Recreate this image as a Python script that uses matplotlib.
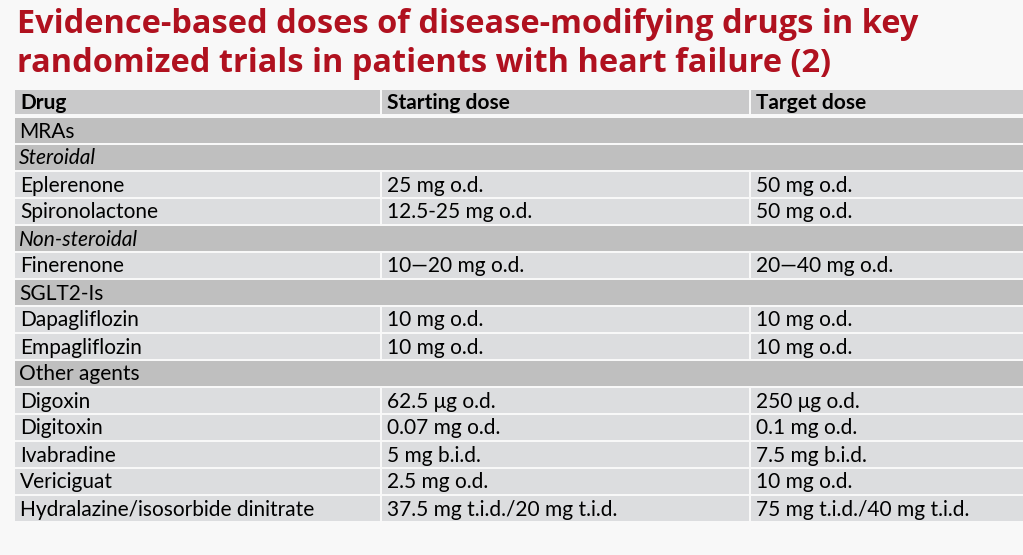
import matplotlib.pyplot as plt
from matplotlib.patches import Rectangle

# dados da tabela
cabecalho = ['Drug', 'Starting dose', 'Target dose']
tipo_linha = ['sec', 'sub', 'dado', 'dado', 'sub', 'dado', 'sec', 'dado', 'dado',
              'sec', 'dado', 'dado', 'dado', 'dado', 'dado']
farmacos = ['MRAs', 'Steroidal', 'Eplerenone', 'Spironolactone', 'Non-steroidal',
            'Finerenone', 'SGLT2-Is', 'Dapagliflozin', 'Empagliflozin', 'Other agents',
            'Digoxin', 'Digitoxin', 'Ivabradine', 'Vericiguat',
            'Hydralazine/isosorbide dinitrate']
dose_inicial = ['', '', '25 mg o.d.', '12.5-25 mg o.d.', '', '10\u201420 mg o.d.', '',
                '10 mg o.d.', '10 mg o.d.', '', '62.5 \u03bcg o.d.', '0.07 mg o.d.',
                '5 mg b.i.d.', '2.5 mg o.d.', '37.5 mg t.i.d./20 mg t.i.d.']
dose_alvo = ['', '', '50 mg o.d.', '50 mg o.d.', '', '20\u201440 mg o.d.', '',
             '10 mg o.d.', '10 mg o.d.', '', '250 \u03bcg o.d.', '0.1 mg o.d.',
             '7.5 mg b.i.d.', '10 mg o.d.', '75 mg t.i.d./40 mg t.i.d.']

titulo = ['Evidence-based doses of disease-modifying drugs in key',
          'randomized trials in patients with heart failure (2)']

fig = plt.figure(figsize=(10.23, 5.55), dpi=100)
fig.patch.set_facecolor('#f8f8f8')
ax = fig.add_axes([0, 0, 1, 1])
ax.set_xlim(0, 1023)
ax.set_ylim(555, 0)
ax.axis('off')

fonte = 'Lato'
tam = 15

# título
for i, linha in enumerate(titulo):
    ax.text(17, 33 + 39 * i, linha, fontsize=23.4, fontweight='bold', family='Open Sans',
            color='#b0111f', va='baseline', ha='left')

# colunas: limites em pixels
col_x = [15, 382, 751, 1030]
gap = 2

# cabeçalho
topo_cab, alt_cab = 90, 24
for c in range(3):
    ax.add_patch(Rectangle((col_x[c], topo_cab), col_x[c + 1] - col_x[c] - gap, alt_cab,
                           facecolor='#c9c9ca', edgecolor='none'))
    ax.text(col_x[c] + 5, topo_cab + 19, cabecalho[c], fontsize=tam, fontweight='bold',
            family=fonte, va='baseline', color='black')

# linhas
topo, alt = 117.5, 27
for i, kind in enumerate(tipo_linha):
    y = topo + i * alt
    if kind in ('sec', 'sub'):
        ax.add_patch(Rectangle((col_x[0], y), col_x[3] - col_x[0], alt - gap,
                               facecolor='#bfbfbf', edgecolor='none'))
        ax.text(col_x[0] + 4, y + 20, farmacos[i], fontsize=tam, family=fonte,
                style='italic' if kind == 'sub' else 'normal', va='baseline', color='black')
    else:
        textos = [farmacos[i], dose_inicial[i], dose_alvo[i]]
        for c in range(3):
            ax.add_patch(Rectangle((col_x[c], y), col_x[c + 1] - col_x[c] - gap, alt - gap,
                                   facecolor='#dcdddf', edgecolor='none'))
            ax.text(col_x[c] + 5, y + 20, textos[c], fontsize=tam, family=fonte,
                    va='baseline', color='black')

plt.savefig('out.png', dpi=100, facecolor=fig.get_facecolor())
